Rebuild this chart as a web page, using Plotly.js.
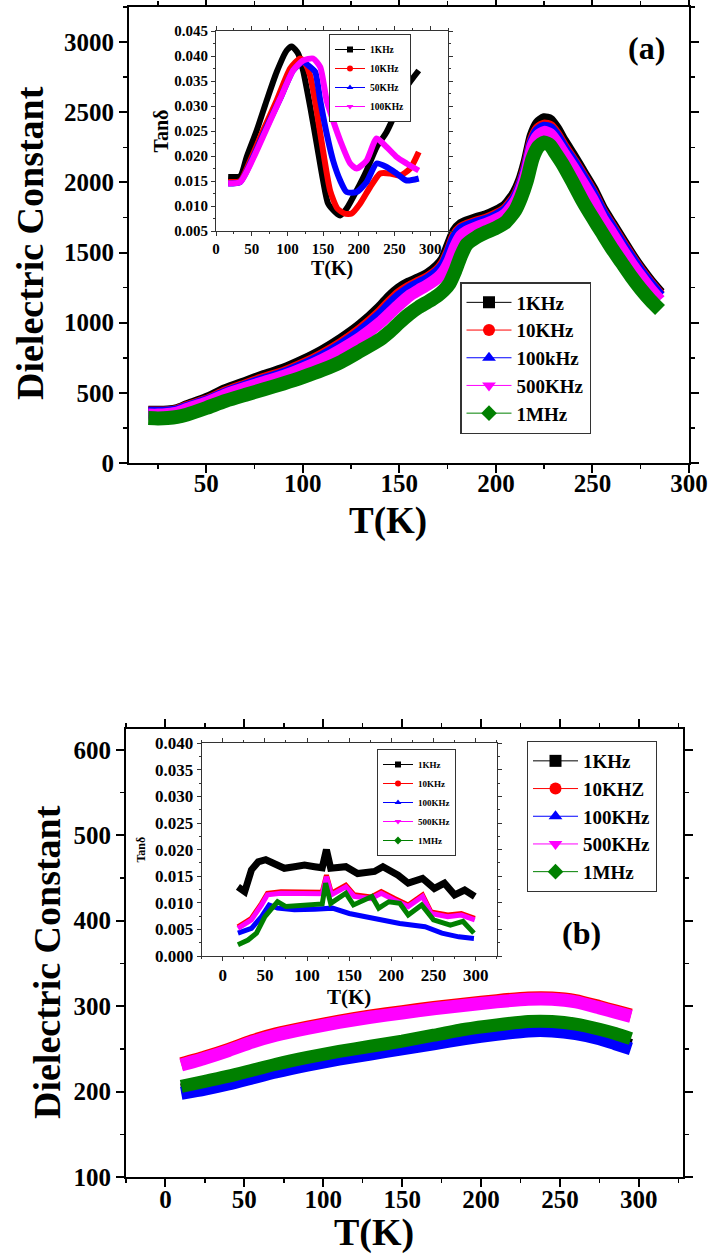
<!DOCTYPE html>
<html><head><meta charset="utf-8">
<script src="https://cdn.plot.ly/plotly-3.0.1.min.js"></script>
<style>html,body{margin:0;padding:0;background:#fff}</style>
</head><body><div id="chart" style="width:709px;height:1254px"></div>
<script>
// ---------- Panel (a): dielectric constant vs T ----------
const Ta = [20,25,30,35,40,50,60,70,80,90,100,110,120,130,140,145,150,155,160,165,170,173,176,179,182,185,190,195,200,205,210,213,216,219,222,225,228,231,235,240,245,250,255,260,265,270,275,280,285];
const epsA_1k   = [365,365,368,378,405,455,520,570,620,665,725,795,880,980,1105,1180,1240,1280,1310,1345,1400,1450,1550,1650,1695,1715,1740,1760,1790,1830,1920,2010,2150,2330,2420,2450,2440,2385,2290,2180,2065,1950,1810,1700,1590,1480,1380,1290,1210];
const epsA_10k  = [360,360,362,372,398,442,503,552,600,643,700,768,850,948,1068,1140,1205,1250,1285,1320,1370,1420,1510,1620,1670,1690,1715,1735,1765,1805,1890,1980,2115,2295,2380,2405,2395,2345,2255,2150,2040,1925,1790,1680,1570,1465,1365,1275,1195];
const epsA_100k = [358,358,360,368,393,437,495,544,590,633,690,756,836,932,1050,1120,1185,1235,1272,1308,1358,1405,1495,1605,1660,1680,1705,1725,1755,1795,1880,1970,2100,2280,2365,2390,2380,2330,2240,2140,2030,1915,1780,1670,1560,1455,1355,1268,1188];
const epsA_500k = [345,345,350,360,385,430,488,535,578,620,673,735,810,895,1000,1065,1130,1190,1232,1272,1320,1365,1440,1545,1620,1650,1680,1705,1735,1775,1860,1950,2080,2260,2335,2360,2345,2295,2210,2105,1995,1880,1745,1640,1530,1425,1330,1240,1160];
const epsA_1M   = [320,318,320,328,345,392,443,485,525,567,612,662,722,800,880,935,1000,1060,1110,1150,1195,1230,1280,1370,1480,1560,1610,1645,1675,1715,1800,1890,2010,2170,2255,2285,2265,2205,2120,1995,1865,1750,1640,1530,1430,1330,1240,1160,1090];

// ---------- Inset (a): tan delta ----------
const tanA_T_1k   = [17,34,43,57,71,85,99,106,115,122,132,141,150,157,167,174,183,197,211,225,239,253,267,284];
const tanA_1k     = [0.0158,0.0160,0.0198,0.0251,0.0311,0.0368,0.0411,0.0419,0.0405,0.0371,0.0298,0.0225,0.0151,0.0105,0.0088,0.0081,0.0095,0.0131,0.0171,0.0218,0.0248,0.0291,0.0338,0.0371];
const tanA_T_10k  = [17,34,48,66,85,104,118,125,132,140,150,160,170,180,190,202,216,230,244,258,272,284];
const tanA_10k    = [0.0148,0.0150,0.0191,0.0251,0.0311,0.0375,0.0395,0.0385,0.0360,0.0300,0.0210,0.0130,0.0095,0.0085,0.0085,0.0105,0.0138,0.0165,0.0165,0.0161,0.0175,0.0208];
const tanA_T_50k  = [17,34,52,71,90,108,122,132,139,146,155,164,174,183,197,211,225,239,253,267,284];
const tanA_50k    = [0.0145,0.0148,0.0198,0.0258,0.0315,0.0371,0.0388,0.0378,0.0368,0.0311,0.0245,0.0191,0.0151,0.0128,0.0128,0.0148,0.0185,0.0178,0.0165,0.0151,0.0155];
const tanA_T_100k = [17,34,52,71,90,108,122,136,146,155,164,174,188,197,211,225,239,253,267,284];
const tanA_100k   = [0.0145,0.0148,0.0195,0.0255,0.0315,0.0371,0.0391,0.0395,0.0378,0.0311,0.0271,0.0231,0.0185,0.0175,0.0191,0.0235,0.0218,0.0198,0.0185,0.0171];

// ---------- Panel (b): dielectric constant vs T ----------
const Tb = [10,25,40,55,70,90,110,130,150,170,190,210,230,245,260,275,285,295];
const epsB_1k   = [202,207,213,220,227,235,242,248,254,260,266,271,275,275,272,266,260,254];
const epsB_10k  = [232.5,240.5,249.5,259.5,267.5,275.5,282.5,288.5,293.5,298.5,302.5,306.5,309.5,309.5,306.5,299.5,294.5,289.5];
const epsB_100k = [198,203,209,216,223,231,238,244,250,256,262,267,271,271,268,262,256,250];
const epsB_500k = [231,239,248,258,266,274,281,287,292,297,301,305,308,308,305,298,293,288];
const epsB_1M   = [206,212,218,225,232,240,247,253,259,266,273,278,282,282,279,273,268,262];

// ---------- Inset (b): tan delta ----------
const tanB_T_1k   = [18,26,34,42,51,61,73,85,97,109,118,123,128,146,160,180,190,208,220,237,251,263,275,287,299];
const tanB_1k     = [0.0130,0.0121,0.0162,0.0177,0.0181,0.0174,0.0165,0.0168,0.0171,0.0168,0.0166,0.0200,0.0165,0.0168,0.0155,0.0159,0.0168,0.0152,0.0137,0.0146,0.0127,0.0137,0.0115,0.0124,0.0112];
const tanB_T_500k = [18,34,46,53,69,93,109,118,123,129,146,156,176,188,204,220,237,247,267,283,299];
const tanB_10k    = [0.0055,0.0071,0.0099,0.0118,0.0121,0.0121,0.0120,0.0120,0.0152,0.0118,0.0133,0.0115,0.0111,0.0121,0.0108,0.0096,0.0115,0.0083,0.0077,0.0080,0.0071];
const tanB_500k   = [0.0052,0.0068,0.0096,0.0115,0.0118,0.0118,0.0117,0.0117,0.0149,0.0115,0.0130,0.0112,0.0108,0.0118,0.0105,0.0093,0.0112,0.0080,0.0074,0.0077,0.0068];
const tanB_T_100k = [18,34,46,55,65,85,109,130,150,180,210,240,260,280,298];
const tanB_100k   = [0.0043,0.0052,0.0074,0.0096,0.0090,0.0087,0.0088,0.0090,0.0080,0.0071,0.0061,0.0055,0.0043,0.0036,0.0033];
const tanB_T_1M   = [18,30,40,50,57,65,75,100,118,122,128,146,155,177,185,197,210,220,236,250,270,285,298];
const tanB_1M     = [0.0021,0.0030,0.0043,0.0074,0.0087,0.0102,0.0093,0.0096,0.0098,0.0137,0.0099,0.0118,0.0096,0.0112,0.0090,0.0102,0.0099,0.0077,0.0096,0.0068,0.0058,0.0065,0.0043];

// Legend labels
const legA  = ['1KHz','10KHz','100kHz','500KHz','1MHz'];
const legAi = ['1KHz','10KHz','50KHz','100KHz'];
const legB  = ['1KHz','10KHZ','100KHz','500KHz','1MHz'];
const legBi = ['1KHz','10KHz','100KHz','500KHz','1MHz'];

const COL = ['#000000','#ff0000','#0000ff','#ff00ff','#008000'];
const SYM = ['square','circle','triangle-up','triangle-down','diamond'];
const FONT = 'Liberation Serif, Times New Roman, serif';

const traces = [];
function band(x, y, i, xa, ya, w, smooth) {
  traces.push({x: x, y: y, xaxis: xa, yaxis: ya, mode: 'lines', showlegend: false,
    line: {color: COL[i], width: w, shape: smooth ? 'spline' : 'linear', smoothing: 0.6},
    hoverinfo: 'skip'});
}
function legItem(name, i, xa, ya, leg, ms) {
  traces.push({x: [null], y: [null], xaxis: xa, yaxis: ya, name: name, legend: leg,
    mode: 'lines+markers', line: {color: COL[i], width: 1}, marker: {symbol: SYM[i], color: COL[i], size: ms}});
}

// main (a)
const aSets = [epsA_1k, epsA_10k, epsA_100k, epsA_500k, epsA_1M];
aSets.forEach((s, i) => band(Ta, s, i, 'x', 'y', i === 4 ? 14 : 12, true));
// inset (a)
band(tanA_T_1k, tanA_1k, 0, 'x2', 'y2', 6, true);
band(tanA_T_10k, tanA_10k, 1, 'x2', 'y2', 6, true);
band(tanA_T_50k, tanA_50k, 2, 'x2', 'y2', 6, true);
band(tanA_T_100k, tanA_100k, 3, 'x2', 'y2', 6, true);
// main (b)
const bSets = [epsB_1k, epsB_10k, epsB_100k, epsB_500k, epsB_1M];
bSets.forEach((s, i) => band(Tb, s, i, 'x3', 'y3', 13, true));
// inset (b)
band(tanB_T_1k, tanB_1k, 0, 'x4', 'y4', 7, false);
band(tanB_T_500k, tanB_10k, 1, 'x4', 'y4', 5, false);
band(tanB_T_100k, tanB_100k, 2, 'x4', 'y4', 5, false);
band(tanB_T_500k, tanB_500k, 3, 'x4', 'y4', 5, false);
band(tanB_T_1M, tanB_1M, 4, 'x4', 'y4', 5, false);

// legend entries
legA.forEach((n, i) => legItem(n, i, 'x', 'y', 'legend', 12));
legAi.forEach((n, i) => legItem(n, i, 'x2', 'y2', 'legend2', 6));
legB.forEach((n, i) => legItem(n, i, 'x3', 'y3', 'legend3', 12));
legBi.forEach((n, i) => legItem(n, i, 'x4', 'y4', 'legend4', 6));

const W = 709, H = 1254;
const px = v => v / W, py = v => 1 - v / H;
const tf = (s) => ({family: FONT, size: s, color: '#000', weight: 'bold'});

function mainAxis(dom, range, dtick, minor, extra) {
  return Object.assign({domain: dom, range: range, showgrid: false, zeroline: false,
    showline: true, linewidth: 2, linecolor: '#000', mirror: 'ticks',
    ticks: 'outside', ticklen: 8, tickwidth: 2, tickcolor: '#000', dtick: dtick, tick0: 0,
    minor: {ticks: 'outside', ticklen: 4, tickwidth: 1.5, tickcolor: '#000', dtick: minor},
    tickfont: tf(25),
    automargin: false, fixedrange: true}, extra || {});
}
function insetAxis(dom, range, dtick, minor, fs, title, tsize, standoff, extra) {
  return Object.assign({domain: dom, range: range, showgrid: false, zeroline: false,
    showline: true, linewidth: 1, linecolor: '#333', mirror: 'ticks',
    ticks: 'outside', ticklen: 4, tickwidth: 1, tickcolor: '#333', dtick: dtick, tick0: 0,
    minor: {ticks: 'outside', ticklen: 2, tickwidth: 1, tickcolor: '#333', dtick: minor},
    tickfont: tf(fs),
    title: {text: title, standoff: standoff, font: tf(tsize)},
    automargin: false, fixedrange: true}, extra || {});
}

const legBase = {xanchor: 'left', yanchor: 'top', bgcolor: '#fff', bordercolor: '#333', tracegroupgap: 0};
function note(text, x, y, size, angle) {
  return {text: text, xref: 'paper', yref: 'paper', x: px(x), y: py(y), xanchor: 'center', yanchor: 'middle',
    showarrow: false, textangle: angle || 0, font: tf(size)};
}

const layout = {
  width: W, height: H, paper_bgcolor: '#fff', plot_bgcolor: 'rgba(0,0,0,0)',
  margin: {l: 0, r: 0, t: 0, b: 0}, showlegend: true,
  font: {family: FONT, color: '#000'},
  xaxis: mainAxis([px(129), px(689)], [10, 300], 50, 25, {anchor: 'y', ticklabelstandoff: -11}),
  yaxis: mainAxis([py(463), py(7)], [0, 3250], 500, 250, {anchor: 'x'}),
  xaxis2: insetAxis([px(216), px(448)], [0, 325], 50, 25, 15, 'T(K)', 20, 0, {anchor: 'y2'}),
  yaxis2: insetAxis([py(231), py(31)], [0.005, 0.045], 0.005, 0.0025, 15, 'Tanδ', 20, 0, {anchor: 'x2', tickformat: '.3f', tick0: 0.005}),
  xaxis3: mainAxis([px(126), px(683)], [-25, 328], 50, 25, {anchor: 'y3', ticklabelstandoff: -9}),
  yaxis3: mainAxis([py(1177), py(728.5)], [100, 625], 100, 50, {anchor: 'x3'}),
  xaxis4: insetAxis([px(201.7), px(496.7)], [-25, 325], 50, 25, 17, 'T(K)', 21, 2, {anchor: 'y4'}),
  yaxis4: insetAxis([py(956), py(743.3)], [0, 0.040], 0.005, 0.0025, 17, 'Tanδ', 12, 6, {anchor: 'x4', tickformat: '.3f'}),
  legend: Object.assign({}, legBase, {x: px(460), y: py(282), borderwidth: 1.5, itemwidth: 45, font: tf(19)}),
  legend2: Object.assign({}, legBase, {x: px(329), y: py(34), borderwidth: 1, font: tf(9.5)}),
  legend3: Object.assign({}, legBase, {x: px(527), y: py(741), borderwidth: 1, itemwidth: 45, font: tf(19)}),
  legend4: Object.assign({}, legBase, {x: px(377), y: py(749), borderwidth: 1, font: tf(9)}),
  annotations: [
    note('T(K)', 388, 521, 37),
    note('Dielectric Constant', 30, 243, 38, -90),
    note('T(K)', 374, 1232, 38),
    note('Dielectric Constant', 47, 962, 38, -90),
    note('(a)', 646, 48, 32),
    note('(b)', 581, 933, 32)
  ]
};

Plotly.newPlot('chart', traces, layout, {staticPlot: true, displayModeBar: false});
</script></body></html>
